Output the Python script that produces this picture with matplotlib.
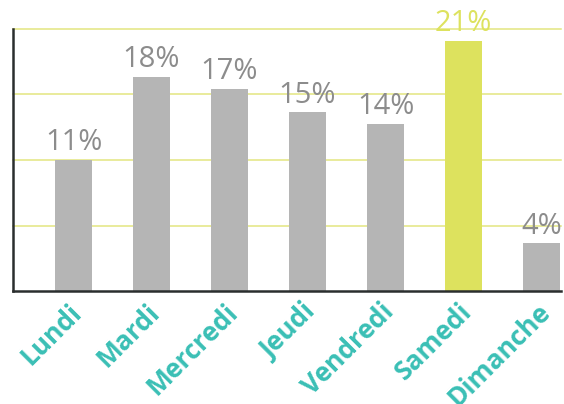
import matplotlib.pyplot as plt
import matplotlib.transforms as mtransforms
import numpy as np

# données
jours = ['Lundi', 'Mardi', 'Mercredi', 'Jeudi', 'Vendredi', 'Samedi', 'Dimanche']
pourcentages = [11, 18, 17, 15, 14, 21, 4]
jour_fort = 'Samedi'
grille = [5.5, 11, 16.5, 22]

gris = '#b5b5b5'
jaune = '#dde25e'
turquoise = '#3abfb5'

plt.rcParams['font.family'] = ['Open Sans', 'DejaVu Sans']

fig = plt.figure(figsize=(5.64, 4.04), dpi=100)
ax = fig.add_axes([13 / 564, 113 / 404, 548 / 564, 262 / 404])

x = np.arange(len(jours))
couleurs = [jaune if j == jour_fort else gris for j in jours]
ax.bar(x, pourcentages, width=0.474, color=couleurs, zorder=2)

for yv in grille:
    ax.axhline(yv, color='#e3e680', linewidth=1.1, zorder=1, clip_on=False)

for xi, v, j in zip(x, pourcentages, jours):
    c = jaune if j == jour_fort else '#8c8c8c'
    ax.annotate(f'{v}%', (xi, v), xytext=(0, 2), textcoords='offset points',
                ha='center', va='bottom', fontsize=21, color=c, zorder=3,
                annotation_clip=False)

ax.set_xlim(-0.776, 6.25)
ax.set_ylim(0, 22)
ax.set_yticks([])
ax.set_xticks(x)
ax.set_xticklabels(jours, rotation=45, ha='right', va='top', rotation_mode='anchor',
                   fontsize=19, fontweight='bold', color=turquoise)
ax.tick_params(axis='x', length=0, pad=6)

# petit décalage des étiquettes vers la gauche
decalage = mtransforms.ScaledTranslation(-5 / 100, 1 / 100, fig.dpi_scale_trans)
for lab in ax.get_xticklabels():
    lab.set_transform(lab.get_transform() + decalage)

for s in ['top', 'right']:
    ax.spines[s].set_visible(False)
for s in ['left', 'bottom']:
    ax.spines[s].set_color('#2a2e2e')
    ax.spines[s].set_linewidth(1.8)
ax.spines['left'].set_zorder(4)
ax.spines['bottom'].set_zorder(4)

fig.savefig('out.png', dpi=100)
